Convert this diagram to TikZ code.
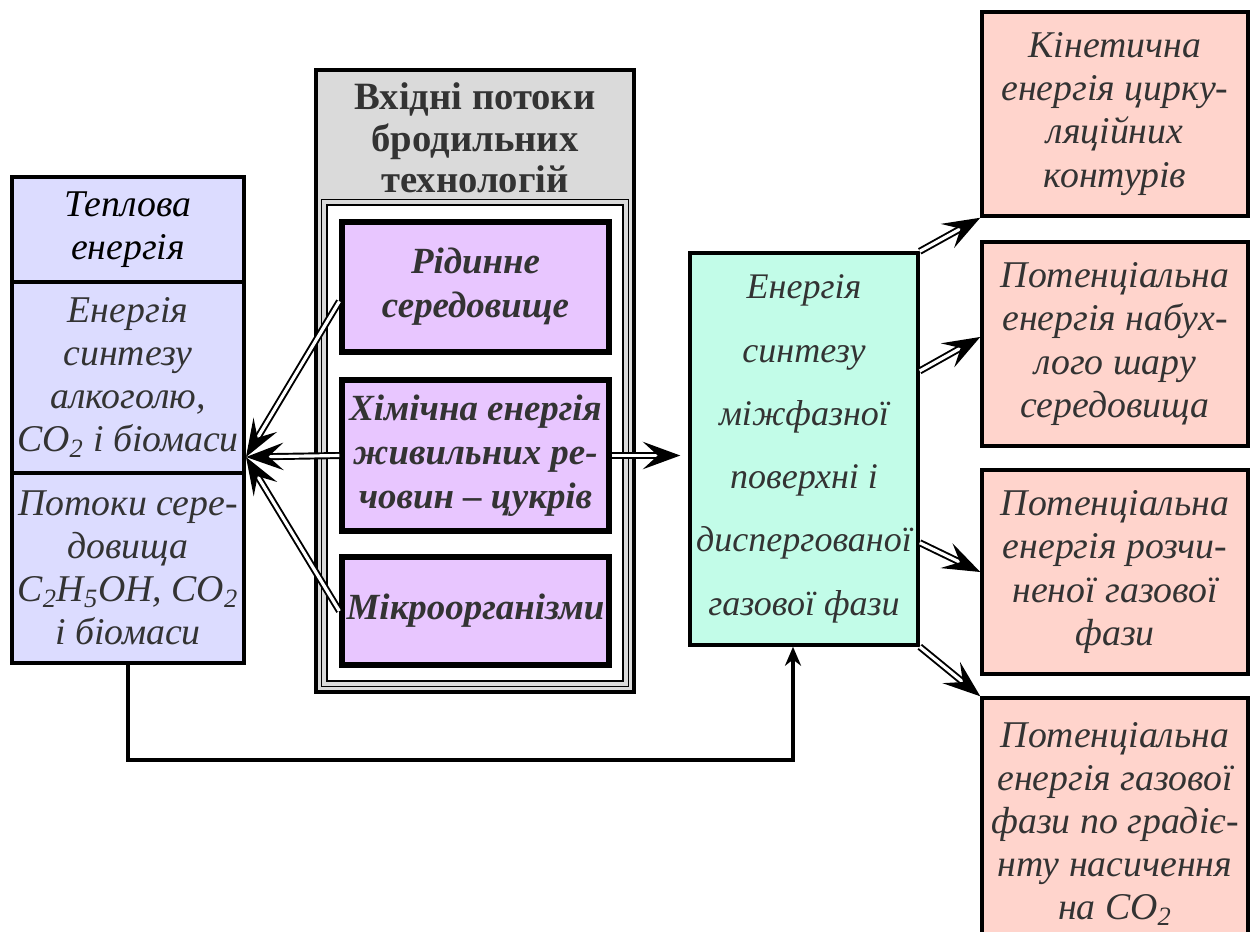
\documentclass[tikz,border=0pt]{standalone}
\usepackage{fontspec}
\setmainfont{Liberation Serif}
\usetikzlibrary{arrows.meta}
\definecolor{leftfill}{RGB}{220,220,255}
\definecolor{boxgray}{RGB}{218,218,218}
\definecolor{lilac}{RGB}{232,198,255}
\definecolor{mint}{RGB}{194,252,232}
\definecolor{salmon}{RGB}{255,212,204}
\definecolor{textgray}{RGB}{51,51,51}

\begin{document}
\begin{tikzpicture}[x=0.02cm,y=-0.02cm,
        dbl/.style={double, double distance=1.8pt, line width=1.1pt,
          -{Stealth[length=0.75cm,width=0.55cm,inset=0.3cm]}},
        conn/.style={line width=2pt, -{Stealth[length=0.38cm,width=0.32cm]}}]

        \useasboundingbox (0,0) rectangle (1256,931);

        \begin{scope}[every node/.style={draw, line width=2pt, fill=leftfill,
            minimum width=4.64cm, align=center, inner sep=0pt,
            font=\fontsize{21.5}{24.5}\selectfont\itshape, text=textgray}]
          \node (heat)  at (128,229.5) [minimum height=2.1cm, text=black] {Теплова\\енергія};
          \node (synth) at (128,377.5) [minimum height=3.82cm] {Енергія\\синтезу\\алкоголю,\\CO\textsubscript{2} і біомаси};
          \node (flows) at (128,568)   [minimum height=3.8cm] {Потоки сере-\\довища\\C\textsubscript{2}H\textsubscript{5}OH, CO\textsubscript{2}\\і біомаси};
        \end{scope}

        \node (inflow) at (475,381) [draw, line width=2pt, fill=boxgray,
          minimum width=6.36cm, minimum height=12.44cm] {};
        \node (title) at (475,138) [text=textgray, align=center,
          font=\fontsize{22}{23.5}\selectfont\bfseries] {Вхідні потоки\\бродильних\\технологій};
        \node (frame) at (475,443) [draw, line width=1.1pt, double=boxgray, double distance=1.8pt,
          fill=white, minimum width=6.04cm, minimum height=9.64cm] {};

        \begin{scope}[every node/.style={draw, line width=3pt, fill=lilac,
            minimum width=5.34cm, align=center, inner sep=0pt,
            font=\fontsize{21}{25}\selectfont\bfseries\itshape, text=textgray}]
          \node (liquid) at (475.5,287)   [minimum height=2.6cm]  {Рідинне\\середовище};
          \node (chem)   at (475.5,455.5) [minimum height=3.02cm] {Хімічна енергія\\живильних ре-\\човин – цукрів};
          \node (micro)  at (475.5,611)   [minimum height=2.16cm] {Мікроорганізми};
        \end{scope}

        \node (gas) at (804,449) [draw, line width=2pt, fill=mint,
          minimum width=4.56cm, minimum height=7.84cm, align=center, inner sep=0pt,
          font=\fontsize{20.5}{36}\selectfont\itshape, text=textgray]
          {Енергія\\синтезу\\міжфазної\\поверхні і\\диспергованої\\газової фази};

        \begin{scope}[every node/.style={draw, line width=2pt, fill=salmon,
            minimum width=5.32cm, align=center, inner sep=0pt,
            font=\fontsize{21.5}{24.5}\selectfont\itshape, text=textgray}]
          \node (k1) at (1115,114) [minimum height=4.08cm] {Кінетична\\енергія цирку-\\ляційних\\контурів};
          \node (k2) at (1115,344) [minimum height=4.08cm] {Потенціальна\\енергія набух-\\лого шару\\середовища};
          \node (k3) at (1115,572) [minimum height=4.08cm] {Потенціальна\\енергія розчи-\\неної газової\\фази};
          \node (k4) at (1115,824) [minimum height=5.04cm] {Потенціальна\\енергія газової\\фази по градіє-\\нту насичення\\на CO\textsubscript{2}};
        \end{scope}

        \coordinate (hub) at (246,457);
        \draw[conn] (flows.south) -- ++(0,95) -| ([xshift=-0.22cm]gas.south);

        \draw[dbl] (liquid.186) -- (hub);
        \draw[dbl] (chem.west) -- (hub);
        \draw[dbl] (micro.west) -- (hub);
        \draw[dbl, shorten >=0.16cm] (chem.east) -- (chem.east -| gas.west);

        \draw[dbl] (gas.north east) -- (k1.south west);
        \draw[dbl] (gas.34) -- (k2.177);
        \draw[dbl] (gas.321) -- (k3.west);
        \draw[dbl] (gas.south east) -- (k4.north west);
      \end{tikzpicture}
\end{document}
